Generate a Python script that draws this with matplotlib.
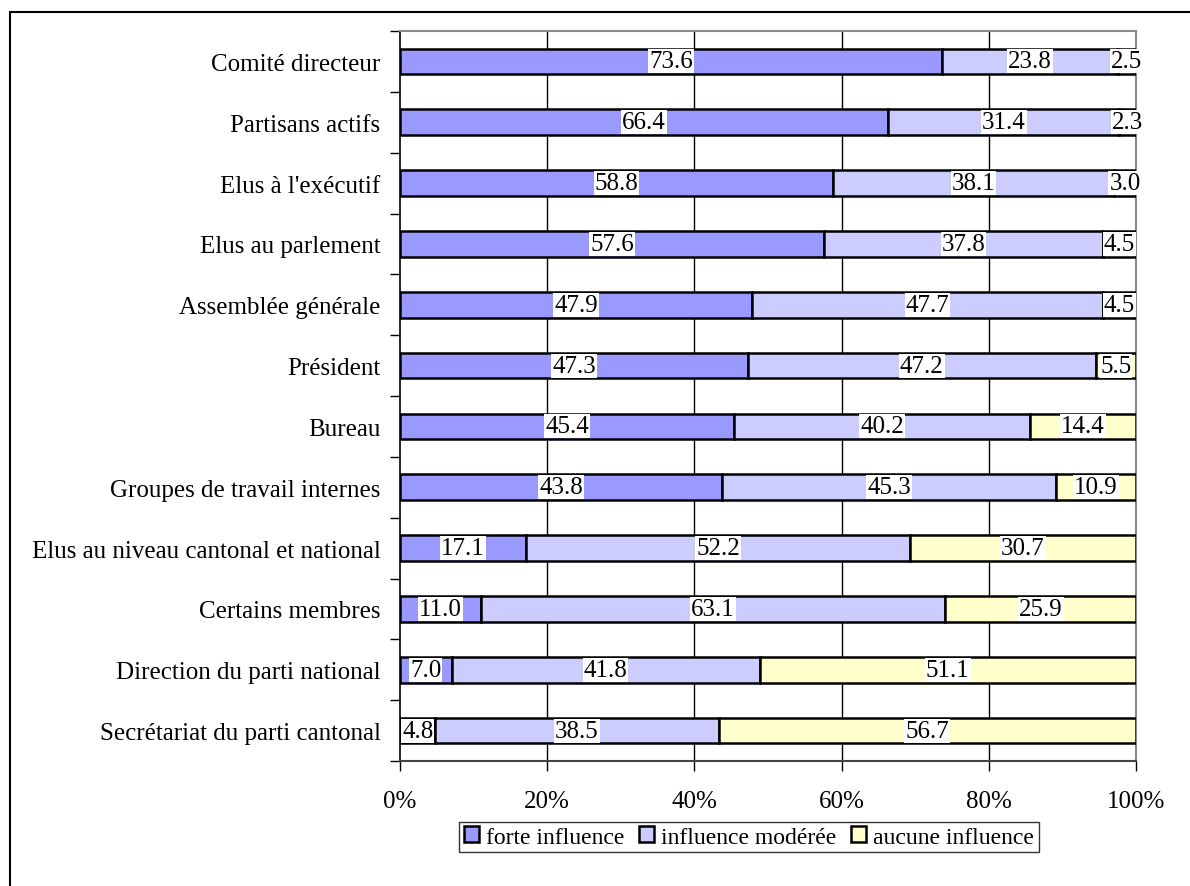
import numpy as np
import matplotlib.pyplot as plt
from matplotlib.patches import Rectangle

plt.rcParams['font.family'] = ['Liberation Serif', 'DejaVu Serif']

categories = ["Comité directeur", "Partisans actifs", "Elus à l'exécutif",
              "Elus au parlement", "Assemblée générale", "Président", "Bureau",
              "Groupes de travail internes", "Elus au niveau cantonal et national",
              "Certains membres", "Direction du parti national",
              "Secrétariat du parti cantonal"]
forte = [73.6, 66.4, 58.8, 57.6, 47.9, 47.3, 45.4, 43.8, 17.1, 11.0, 7.0, 4.8]
moderee = [23.8, 31.4, 38.1, 37.8, 47.7, 47.2, 40.2, 45.3, 52.2, 63.1, 41.8, 38.5]
aucune = [2.5, 2.3, 3.0, 4.5, 4.5, 5.5, 14.4, 10.9, 30.7, 25.9, 51.1, 56.7]
series = [("forte influence", forte, '#9999FF'),
          ("influence modérée", moderee, '#CCCCFF'),
          ("aucune influence", aucune, '#FFFFCC')]

fig = plt.figure(figsize=(11.9, 8.87), dpi=100)
ax = fig.add_axes([400/1190, 1-762/887, 736/1190, 730/887])

y = np.arange(len(categories))
tot = np.array(forte) + np.array(moderee) + np.array(aucune)
left = np.zeros(len(categories))
for name, vals, col in series:
    w = np.array(vals) / tot * 100
    ax.barh(y, w, left=left, height=0.42, color=col, edgecolor='black',
            linewidth=1.8, label=name, zorder=3)
    for yi, li, wi, v in zip(y, left, w, vals):
        ax.text(li + wi/2, yi, f"{v:.1f}", ha='center', va='center', fontsize=18,
                zorder=5, bbox=dict(facecolor='white', edgecolor='none', pad=0.8))
    left = left + w

ax.set_xlim(0, 100)
ax.set_ylim(len(categories) - 0.5, -0.5)
ax.set_yticks(y)
ax.set_yticklabels(categories, fontsize=18)
ax.set_yticks(np.arange(-0.5, len(categories)), minor=True)
ax.tick_params(axis='y', which='major', length=0, pad=14)
ax.tick_params(axis='y', which='minor', length=7, width=1, color='black')
ax.set_xticks(np.arange(0, 101, 20))
ax.set_xticklabels([f"{v}%" for v in range(0, 101, 20)], fontsize=18)
ax.tick_params(axis='x', length=7, width=1, color='black', pad=14)

for v in [20, 40, 60, 80]:
    ax.axvline(v, color='black', linewidth=1, zorder=1)
ax.spines['left'].set_color('black')
ax.spines['left'].set_linewidth(1.2)
ax.spines['bottom'].set_color('#444444')
ax.spines['bottom'].set_linewidth(1.5)
for s in ['top', 'right']:
    ax.spines[s].set_color('#888888')
    ax.spines[s].set_linewidth(1.5)

leg = fig.legend(loc='center', bbox_to_anchor=(749/1190, 1-838/887), ncol=3,
                 fontsize=17, frameon=True, fancybox=False, edgecolor='black',
                 handlelength=0.65, handleheight=0.65, handletextpad=0.3,
                 columnspacing=0.6, borderpad=0.2, borderaxespad=0)
leg.get_frame().set_linewidth(1)

fig.patches.append(Rectangle((10/1190, -0.01), 1.0, 1-13/887+0.01,
                             transform=fig.transFigure, fill=False,
                             edgecolor='black', linewidth=1.5))

fig.savefig('out.png', dpi=100)
